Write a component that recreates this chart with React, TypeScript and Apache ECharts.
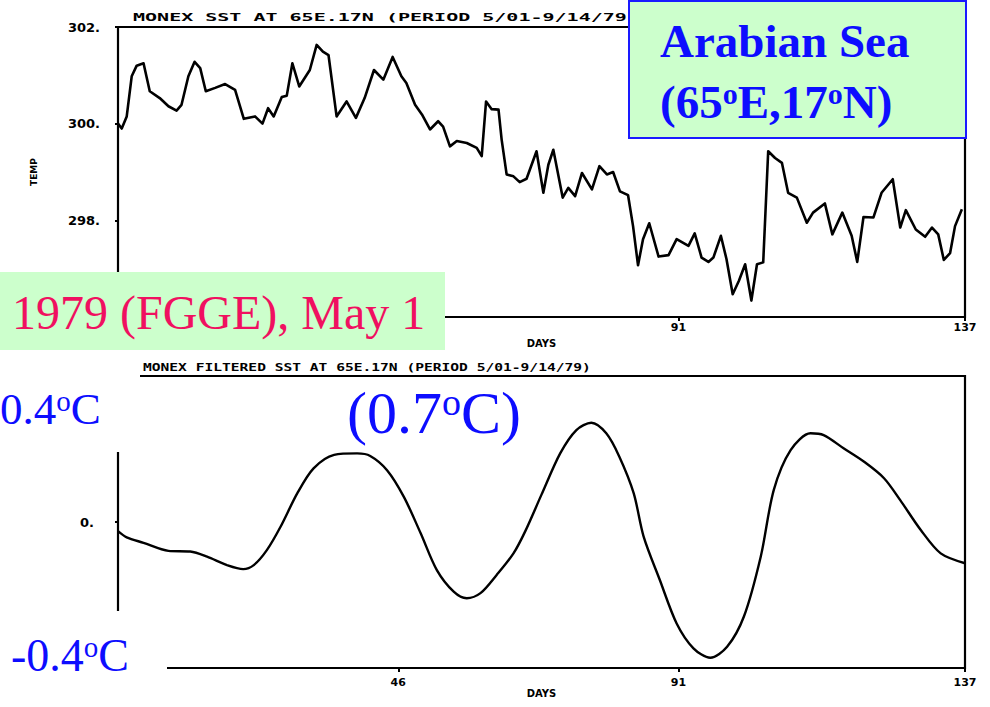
import { useEffect, useRef } from "react";
import * as echarts from "echarts";

// Daily SST at 65E, 17N (K), day 1 = 1 May 1979
const sstDays = [
  1.0, 1.6, 2.4, 3.2, 4.0, 5.1, 6.1, 7.7, 9.1, 10.4, 11.2, 12.3, 13.3, 14.2, 15.1,
  16.6, 18.2, 19.8, 21.2, 23.0, 24.2, 25.1, 26.0, 27.3, 28.1, 29.0, 30.1, 31.8,
  32.9, 33.9, 34.8, 36.1, 37.7, 39.2, 40.6, 42.1, 43.6, 45.1, 46.5, 47.3, 48.7,
  49.8, 51.1, 52.4, 53.2, 54.3, 55.4, 57.0, 58.6, 59.4, 60.1, 61.0, 62.1, 62.6,
  63.4, 64.5, 65.5, 66.6, 68.2, 69.3, 70.1, 70.9, 72.4, 73.3, 74.4, 75.5, 77.1,
  78.3, 79.5, 80.5, 81.6, 82.9, 83.7, 84.5, 85.3, 86.3, 87.8, 89.4, 90.7, 92.6,
  93.6, 94.7, 95.8, 96.6, 97.8, 98.7, 99.7, 100.7, 101.7, 102.7, 103.6, 104.6,
  105.4, 106.5, 107.6, 108.6, 110.0, 111.6, 112.6, 114.5, 115.7, 117.3, 118.8,
  119.7, 120.7, 122.3, 123.6, 125.4, 126.6, 127.5, 129.1, 130.6, 131.7, 132.7,
  133.6, 134.6, 135.4, 136.5,
];
const sstTemp = [
  300.0, 299.9, 300.15, 300.98, 301.2, 301.25, 300.67, 300.53, 300.36, 300.27,
  300.39, 300.98, 301.28, 301.15, 300.67, 300.74, 300.82, 300.7, 300.1, 300.15,
  300.0, 300.32, 300.15, 300.55, 300.58, 301.25, 300.77, 301.11, 301.63, 301.49,
  301.42, 300.15, 300.46, 300.12, 300.53, 301.11, 300.91, 301.38, 300.98, 300.84,
  300.39, 300.19, 299.88, 300.05, 299.94, 299.53, 299.64, 299.6, 299.5, 299.33,
  300.46, 300.3, 300.29, 299.67, 298.95, 298.91, 298.79, 298.86, 299.43, 298.57,
  299.15, 299.46, 298.47, 298.67, 298.5, 298.98, 298.64, 299.12, 298.95, 299.0,
  298.6, 298.52, 297.88, 297.07, 297.61, 297.94, 297.25, 297.28, 297.61, 297.47,
  297.73, 297.23, 297.14, 297.23, 297.68, 297.2, 296.47, 296.75, 297.09, 296.34,
  297.09, 297.13, 299.43, 299.29, 299.19, 298.57, 298.47, 297.95, 298.16, 298.35,
  297.71, 298.16, 297.68, 297.14, 298.07, 298.06, 298.57, 298.85, 297.85, 298.21,
  297.81, 297.66, 297.85, 297.71, 297.18, 297.32, 297.88, 298.23,
];

// Band-pass filtered SST anomaly (degC)
const filtDays = [
  1.0, 2.4, 5.1, 9.1, 12.6, 15.3, 18.5, 21.1, 22.8, 24.9, 27.1, 29.8, 32.4, 35.7,
  39.4, 41.5, 44.2, 46.9, 49.6, 52.2, 54.9, 57.0, 59.2, 61.8, 64.5, 66.4, 69.0,
  72.0, 74.6, 77.0, 79.4, 81.5, 83.8, 85.4, 88.0, 90.7, 93.4, 96.1, 98.8, 101.5,
  104.2, 106.3, 109.0, 112.2, 114.3, 117.5, 120.8, 124.0, 126.6, 129.9, 133.1, 137.0,
];
const filtAnom = [
  -0.025, -0.042, -0.057, -0.079, -0.081, -0.095, -0.118, -0.129, -0.118, -0.077,
  -0.013, 0.079, 0.147, 0.184, 0.188, 0.181, 0.142, 0.069, -0.031, -0.132, -0.191,
  -0.209, -0.195, -0.145, -0.086, -0.025, 0.075, 0.188, 0.252, 0.272, 0.243, 0.179,
  0.079, -0.04, -0.159, -0.278, -0.346, -0.372, -0.342, -0.259, -0.095, 0.088,
  0.197, 0.243, 0.238, 0.202, 0.165, 0.12, 0.06, -0.022, -0.086, -0.113,
];

const dayTicksTop = [91, 137];
const dayTicksBottom = [46, 91, 137];
const tempTicks = [298, 300, 302];
const anomTicks = [0];

const titleTop = "MONEX SST AT 65E.17N (PERIOD 5/01-9/14/79)";
const titleBottom = "MONEX FILTERED SST AT 65E.17N (PERIOD 5/01-9/14/79)";

const BLUE = "#0d0dff";
const PINK = "#f01060";
const GREEN = "#ccffcc";
const SERIF = "'Liberation Serif', 'Times New Roman', serif";
const MONO = "'DejaVu Sans Mono', monospace";
const SANS = "'DejaVu Sans', sans-serif";

// pieces joined by a superscript "o" (degree mark)
function supText(main: string[]) {
  return main.map((m) => `{a|${m}}`).join("{s|o}");
}

function richStyle(size: number, bold: boolean, color: string) {
  return {
    a: {
      fontFamily: SERIF,
      fontSize: size,
      fontWeight: bold ? "bold" : "normal",
      lineHeight: size,
      fill: color,
      color,
    },
    s: {
      fontFamily: SERIF,
      fontSize: Math.round(size * 0.64),
      fontWeight: bold ? "bold" : "normal",
      lineHeight: size,
      verticalAlign: "top",
      padding: [0, 0, Math.round(size * 0.36), 0],
      fill: color,
      color,
    },
  };
}

const axisFont = {
  color: "#000",
  fontFamily: SANS,
  fontWeight: "bold" as const,
  fontSize: 11,
};

export default function App() {
  const ref = useRef<HTMLDivElement>(null);

  useEffect(() => {
    if (!ref.current) return;
    const chart = echarts.init(ref.current, null, { renderer: "svg" });

    const xTicks = [dayTicksTop, dayTicksBottom];

    const option: any = {
      animation: false,
      backgroundColor: "#fff",
      grid: [
        {
          left: 118, top: 27, width: 847, height: 290,
          show: true, borderColor: "#000", borderWidth: 2.2, backgroundColor: "transparent",
        },
        {
          left: 118, top: 376, width: 847, height: 292,
          show: true, borderColor: "#000", borderWidth: 2.2, backgroundColor: "transparent",
        },
      ],
      xAxis: [0, 1].map((g) => ({
        type: "value",
        gridIndex: g,
        min: 1,
        max: 137,
        splitLine: { show: false },
        axisLine: { show: false, onZero: false },
        axisTick: {
          show: true,
          customValues: xTicks[g],
          length: 4,
          lineStyle: { color: "#000", width: 2 },
        },
        axisLabel: { ...axisFont, customValues: xTicks[g], margin: g === 0 ? 5 : 9 },
        name: "DAYS",
        nameLocation: "middle",
        nameGap: g === 0 ? 21 : 19,
        nameTextStyle: { ...axisFont, fontSize: 10 },
      })),
      yAxis: [
        {
          type: "value",
          gridIndex: 0,
          min: 296,
          max: 302,
          interval: 2,
          splitLine: { show: false },
          axisLine: { show: false, onZero: false },
          axisTick: {
            show: true,
            customValues: tempTicks,
            length: 3,
            lineStyle: { color: "#000", width: 2 },
          },
          axisLabel: {
            ...axisFont,
            fontSize: 13,
            customValues: tempTicks,
            margin: 18,
            formatter: (v: number) => `${v}.`,
          },
          name: "TEMP",
          nameLocation: "middle",
          nameGap: 80,
          nameTextStyle: { ...axisFont, fontSize: 9 },
        },
        {
          type: "value",
          gridIndex: 1,
          min: -0.4,
          max: 0.4,
          splitLine: { show: false },
          axisLine: { show: false, onZero: false },
          axisTick: {
            show: true,
            customValues: anomTicks,
            length: 3,
            lineStyle: { color: "#000", width: 2 },
          },
          axisLabel: {
            ...axisFont,
            fontSize: 13,
            customValues: anomTicks,
            margin: 24,
            formatter: () => "0.",
          },
        },
      ],
      series: [
        {
          type: "line",
          xAxisIndex: 0,
          yAxisIndex: 0,
          data: sstDays.map((d, i) => [d, sstTemp[i]]),
          symbol: "none",
          lineStyle: { color: "#000", width: 2.6, join: "round" },
        },
        {
          type: "line",
          xAxisIndex: 1,
          yAxisIndex: 1,
          data: filtDays.map((d, i) => [d, filtAnom[i]]),
          smooth: 0.3,
          symbol: "none",
          lineStyle: { color: "#000", width: 2.4 },
        },
      ],
      graphic: [
        {
          type: "text",
          x: 133,
          y: 12,
          scaleX: 1.82,
          z: 100,
          style: {
            text: titleTop,
            font: `bold 11px ${MONO}`,
            fill: "#000",
            textAlign: "left",
            textVerticalAlign: "top",
          },
        },
        {
          type: "text",
          x: 143,
          y: 362,
          scaleX: 1.46,
          z: 100,
          style: {
            text: titleBottom,
            font: `bold 10px ${MONO}`,
            fill: "#000",
            textAlign: "left",
            textVerticalAlign: "top",
          },
        },
        // white backing of the left-hand annotations
        { type: "rect", z: 100, shape: { x: 0, y: 374, width: 140, height: 78 }, style: { fill: "#fff" } },
        { type: "rect", z: 100, shape: { x: 0, y: 611, width: 167, height: 96 }, style: { fill: "#fff" } },
        // date box
        { type: "rect", z: 100, shape: { x: 0, y: 272, width: 445, height: 78 }, style: { fill: GREEN } },
        {
          type: "text",
          x: 12,
          y: 312,
          z: 101,
          style: {
            text: "1979 (FGGE), May 1",
            font: `48px ${SERIF}`,
            fill: PINK,
            textAlign: "left",
            textVerticalAlign: "middle",
          },
        },
        // location box
        {
          type: "rect",
          z: 100,
          shape: { x: 629, y: 1, width: 337, height: 137 },
          style: { fill: GREEN, stroke: "#1a1aff", lineWidth: 2 },
        },
        {
          type: "text",
          x: 660,
          y: 41,
          z: 101,
          style: {
            text: "Arabian Sea",
            font: `bold 47px ${SERIF}`,
            fill: BLUE,
            textAlign: "left",
            textVerticalAlign: "middle",
          },
        },
        {
          type: "text",
          x: 660,
          y: 102,
          z: 101,
          style: {
            text: supText(["(65", "E,17", "N)"]),
            rich: richStyle(47, true, BLUE),
            fill: BLUE,
            textAlign: "left",
            textVerticalAlign: "middle",
          },
        },
        {
          type: "text",
          x: 0,
          y: 409,
          z: 101,
          style: {
            text: supText(["0.4", "C"]),
            rich: richStyle(45, false, BLUE),
            fill: BLUE,
            textAlign: "left",
            textVerticalAlign: "middle",
          },
        },
        {
          type: "text",
          x: 11,
          y: 655,
          z: 101,
          style: {
            text: supText(["-0.4", "C"]),
            rich: richStyle(46, false, BLUE),
            fill: BLUE,
            textAlign: "left",
            textVerticalAlign: "middle",
          },
        },
        {
          type: "text",
          x: 347,
          y: 413,
          z: 101,
          style: {
            text: supText(["(0.7", "C)"]),
            rich: richStyle(60, false, BLUE),
            fill: BLUE,
            textAlign: "left",
            textVerticalAlign: "middle",
          },
        },
      ],
    };

    chart.setOption(option);
    return () => chart.dispose();
  }, []);

  return (
    <div
      ref={ref}
      style={{ position: "absolute", left: 0, top: 0, width: 990, height: 707, background: "#fff" }}
    />
  );
}
